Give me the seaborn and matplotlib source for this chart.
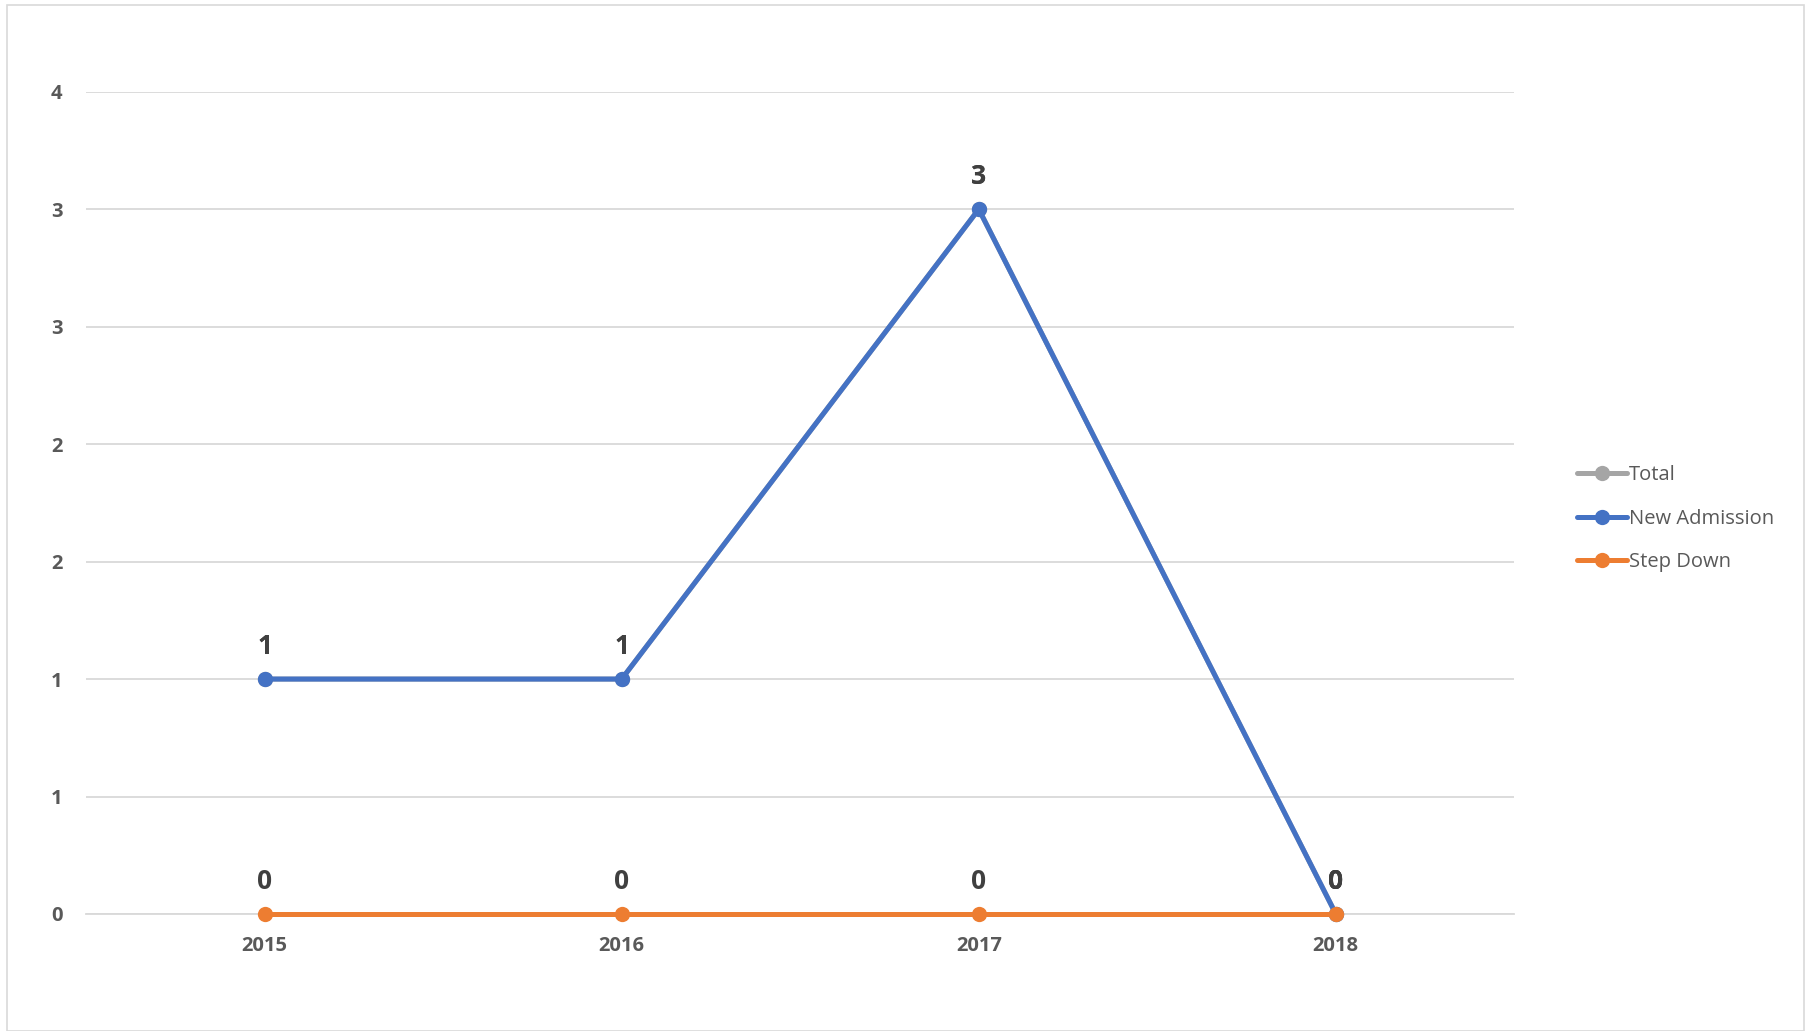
import numpy as np
import pandas as pd
import matplotlib.pyplot as plt
import seaborn as sns
from matplotlib.lines import Line2D
from matplotlib.patches import Rectangle

# data
years = ["2015", "2016", "2017", "2018"]
total = [1, 1, 3, 0]
new_admission = [1, 1, 3, 0]
step_down = [0, 0, 0, 0]

series_names = ["Total", "New Admission", "Step Down"]
series_colors = ["#A5A5A5", "#4472C4", "#ED7D31"]

y_ticks = [0, 0.5, 1, 1.5, 2, 2.5, 3, 3.5]
y_tick_labels = ["0", "1", "1", "2", "2", "3", "3", "4"]

df = pd.DataFrame({
    "Year": years * 3,
    "idx": list(range(len(years))) * 3,
    "Value": total + new_admission + step_down,
    "Series": ["Total"] * 4 + ["New Admission"] * 4 + ["Step Down"] * 4,
})

sns.set_style("white")
plt.rcParams["font.family"] = ["Open Sans", "DejaVu Sans"]

fig = plt.figure(figsize=(18.08, 10.31), dpi=100)
ax = fig.add_axes([0.0476, 0.1135, 0.790, 0.7975])

sns.lineplot(data=df, x="idx", y="Value", hue="Series", hue_order=series_names,
             palette=series_colors, marker="o", markersize=11, markeredgewidth=0,
             linewidth=3.6, ax=ax, legend=False, zorder=3)
for ln in ax.lines:
    ln.set_clip_on(False)

# data labels
for name in series_names:
    sub = df[df["Series"] == name]
    for i, v in zip(sub["idx"], sub["Value"]):
        ax.annotate(f"{v}", (i, v), xytext=(0, 14), textcoords="offset points",
                    ha="center", va="bottom", fontsize=19, fontweight="bold",
                    color="#404040", zorder=5)

ax.set_xlim(-0.5, 3.5)
ax.set_ylim(0, 3.5)
ax.set_xticks(range(len(years)))
ax.set_xticklabels(years)
ax.set_yticks(y_ticks)
ax.set_yticklabels(y_tick_labels)
ax.tick_params(axis="both", length=0, labelsize=14.5, labelcolor="#595959")
ax.tick_params(axis="x", pad=16)
ax.tick_params(axis="y", pad=17)
for lab in ax.get_xticklabels() + ax.get_yticklabels():
    lab.set_fontweight("bold")
ax.set_xlabel("")
ax.set_ylabel("")
ax.grid(axis="y", color="#D9D9D9", linewidth=1.3)
ax.set_axisbelow(True)
for s in ["top", "right", "left"]:
    ax.spines[s].set_visible(False)
ax.spines["bottom"].set_color("#D9D9D9")
ax.spines["bottom"].set_linewidth(1.3)

handles = [Line2D([0], [0], color=c, linewidth=3.6, marker="o", markersize=11,
                  markeredgewidth=0) for c in series_colors]
leg = fig.legend(handles, series_names, loc="center left",
                 bbox_to_anchor=(0.862, 0.497), frameon=False, fontsize=14.5,
                 handlelength=2.5, handletextpad=0.1, labelspacing=1.15,
                 labelcolor="#595959")

# chart border
fig.patches.append(Rectangle((0.004, 0.0), 0.994, 0.995, transform=fig.transFigure,
                             fill=False, edgecolor="#D9D9D9", linewidth=1.2))

fig.savefig("out.png", dpi=100)
